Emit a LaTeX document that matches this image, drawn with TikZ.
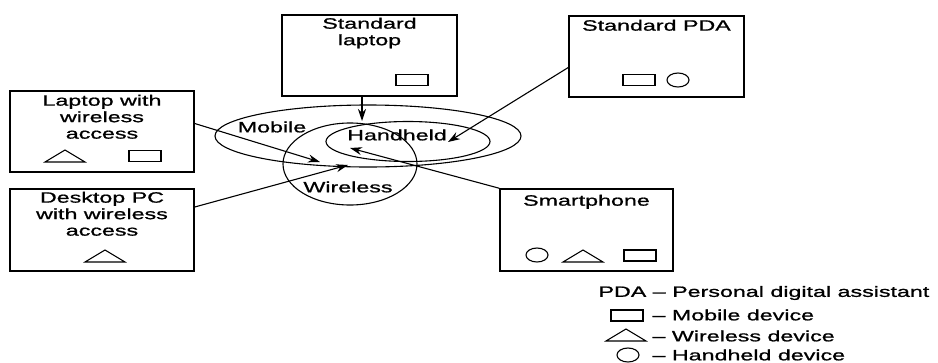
\documentclass[tikz,border=0pt]{standalone}
\usepackage{fontspec}
\newfontfamily\diagfont[FakeStretch=1.55,FakeBold=1]{Liberation Sans}
\usetikzlibrary{arrows.meta,positioning,calc,shapes.geometric}

\tikzset{
  mobsym/.pic={\draw (-16,-5.5) rectangle (16,5.5);},
  wlsym/.pic={\draw (-20,0) -- (0,-12) -- (20,0) -- cycle;},
  hhsym/.pic={\draw (0,0) ellipse [x radius=11, y radius=7];},
}

\begin{document}
\begin{tikzpicture}[x=1pt,y=-1pt,line width=1.1pt,
  font=\diagfont\fontsize{15}{16.5}\selectfont,>={Stealth[length=12pt,width=8pt]},
  devbox/.style={draw,line width=1.5pt,inner sep=0pt},
  boxtext/.style={inner sep=0pt,align=center},
  setring/.style={draw,ellipse,inner sep=0pt},
  keytext/.style={anchor=west,inner sep=0pt}]
\useasboundingbox (0,0) rectangle (938,362);
% device boxes
\node[devbox,minimum width=184,minimum height=81] (lapw) at (102,131.5) {};
\node[boxtext,below=4pt of lapw.north] (lapwtxt) {Laptop with\\wireless\\access};
\pic at (65,162) {wlsym};
\pic at (145,156) {mobsym};
\node[devbox,minimum width=184,minimum height=82] (desk) at (102,230) {};
\node[boxtext,below=3pt of desk.north] (desktxt) {Desktop PC\\with wireless\\access};
\pic at (105,262) {wlsym};
\node[devbox,minimum width=175,minimum height=81] (stdlap) at (369.5,55.5) {};
\node[boxtext,below=3pt of stdlap.north] (stdlaptxt) {Standard\\laptop};
\pic at (412,80) {mobsym};
\node[devbox,minimum width=175,minimum height=81] (pda) at (656.5,56.5) {};
\node[boxtext,below=4pt of pda.north] (pdatxt) {Standard PDA};
\pic at (639,80) {mobsym};
\pic at (678,80) {hhsym};
\node[devbox,minimum width=173,minimum height=82] (smart) at (586.5,230) {};
\node[boxtext,below=6pt of smart.north] (smarttxt) {Smartphone};
\pic at (537,255) {hhsym};
\pic at (583,262) {wlsym};
\pic at (640,255.5) {mobsym};
% device classes
\node[setring,minimum width=306,minimum height=62] (mobile) at (368,136) {};
\node[setring,minimum width=164,minimum height=40] (handheld) at (408,141.5) {};
\node[setring,minimum width=134,minimum height=82] (wireless) at (350,164) {};
\node (mobtxt) at (272,127) {Mobile};
\node (hhtxt) at (397,135) {Handheld};
\node (wltxt) at (348,187) {Wireless};
% connectors
\coordinate (hhtop) at (362,121);
\coordinate (hhright) at (448,142);
\coordinate (wlleft) at (320,162);
\coordinate (wlmid) at (348,165);
\coordinate (hhleft) at (350,148);
\draw[->] (stdlap.south -| hhtop) -- (hhtop);
\draw[->] ($(pda.west)+(0,11)$) -- (hhright);
\draw[->] ($(lapw.east)+(0,-8)$) -- (wlleft);
\draw[->] ($(desk.east)+(0,-23)$) -- (wlmid);
\draw[->] (smart.north west) -- (hhleft);
% legend
\node[keytext] (pdakey) at (598,293) {PDA \textendash\ Personal digital assistant};
\pic at (627,315.5) {mobsym};
\node[keytext] (mobkey) at (652,315) {\textendash\ Mobile device};
\pic at (626,341) {wlsym};
\node[keytext] (wlkey) at (652,336) {\textendash\ Wireless device};
\pic at (628,355) {hhsym};
\node[keytext] (hhkey) at (652,355) {\textendash\ Handheld device};
\end{tikzpicture}
\end{document}
